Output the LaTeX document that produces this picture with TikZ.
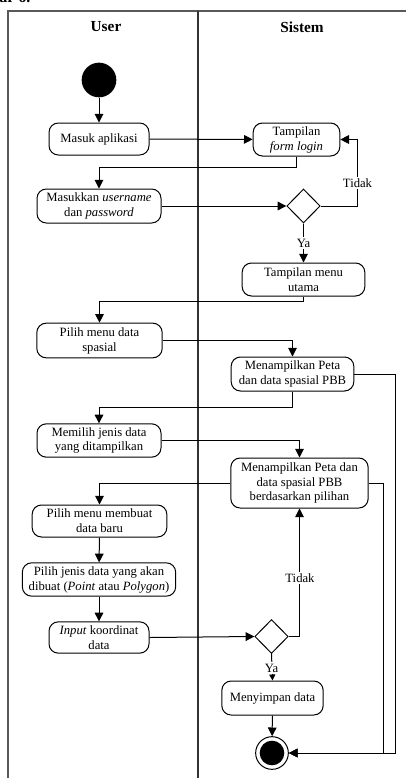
\documentclass[tikz,border=0pt]{standalone}
\usepackage{fontspec}
\setmainfont{Liberation Serif}
\usetikzlibrary{shapes.geometric,arrows.meta}
\begin{document}
\begin{tikzpicture}[x=0.75pt,y=-0.75pt,
  act/.style={draw,line width=0.75pt,rounded corners=7pt,align=center,
    inner sep=1pt,font=\fontsize{9.5}{11.2}\selectfont},
  dec/.style={draw,diamond,line width=0.75pt,inner sep=0pt,
    minimum width=25pt,minimum height=25.5pt},
  arr/.style={line width=0.75pt,-{Triangle[length=6.5pt,width=6.5pt]}},
  sarr/.style={line width=0.75pt,-{Triangle[length=4.5pt,width=4.5pt]}},
  lane/.style={line width=1.1pt,black!65},
  hdr/.style={font=\fontsize{11.5}{13}\selectfont\bfseries},
  lbl/.style={fill=white,inner sep=1pt,font=\fontsize{9.5}{11}\selectfont}]
\useasboundingbox (0,0) rectangle (406,778);

% caption remnant above the frame
\node[anchor=base west,inner sep=0pt,font=\fontsize{12}{14}\selectfont\bfseries] (cap) at (-1,2.5) {ar 6.};

% swimlane frame
\draw[lane] (8,790) -- (8,11) -- (420,11);
\draw[line width=0.8pt,black!80] (198,11) -- (198,790);
\node[hdr] (huser) at (106,27) {User};
\node[hdr] (hsys) at (302,27) {Sistem};

% nodes
\node[circle,fill=black,minimum size=26pt,inner sep=0pt] (start) at (99,80) {};
\node[act,minimum width=75pt,minimum height=24pt] (masuk) at (99,139) {Masuk aplikasi};
\node[act,minimum width=65pt,minimum height=24.75pt] (login) at (296.5,139.5) {Tampilan\\\textit{form login}};
\node[act,minimum width=93pt,minimum height=25.5pt] (masukkan) at (99,206) {Masukkan \textit{username}\\dan \textit{password}};
\node[dec] (d1) at (303.5,206) {};
\node[act,minimum width=92pt,minimum height=24.75pt] (menu) at (303.5,279.5) {Tampilan menu\\utama};
\node[act,minimum width=94pt,minimum height=26pt] (spasial) at (99.5,340.5) {Pilih menu data\\spasial};
\node[act,minimum width=92pt,minimum height=25.5pt] (peta1) at (292.5,374) {Menampilkan Peta\\dan data spasial PBB};
\node[act,minimum width=93pt,minimum height=25pt] (memilih) at (99,440.5) {Memilih jenis data\\yang ditampilkan};
\node[act,minimum width=103pt,minimum height=37.5pt] (peta2) at (299.5,483) {Menampilkan Peta dan\\data spasial PBB\\berdasarkan pilihan};
\node[act,minimum width=101pt,minimum height=24pt] (membuat) at (99.5,521) {Pilih menu membuat\\data baru};
\node[act,minimum width=115pt,minimum height=25pt] (jenis) at (99,579.5) {Pilih jenis data yang akan\\dibuat (\textit{Point} atau \textit{Polygon})};
\node[act,minimum width=75pt,minimum height=23.5pt] (input) at (99,637.5) {\textit{Input} koordinat\\data};
\node[dec] (d2) at (271.5,636.5) {};
\node[act,minimum width=76pt,minimum height=25.5pt] (simpan) at (272.5,698) {Menyimpan data};
\node[circle,draw,line width=0.75pt,fill=white,minimum size=24.5pt,inner sep=0pt] (end) at (272,753) {};
\node[circle,fill=black,minimum size=18.5pt,inner sep=0pt] (endin) at (end.center) {};

% junction points on the right edge
\coordinate (r1) at (395,753);
\coordinate (r2) at (383,753);

% connectors
\draw[arr] (start) -- (masuk);
\draw[arr] (masuk) -- (login);
\draw[arr] (login.south) -- ++(0,11) -| (masukkan.north);
\draw[arr] (masukkan.east) -- (d1.west);
\draw[arr] (d1.east) -- ++(37,0) |- (login.east);
\node[lbl] (t1) at (357.5,183) {Tidak};
\draw[arr] (d1.south) -- (menu.north);
\node[lbl] (y1) at (303.5,243) {Ya};
\draw[arr] (menu.south) -- ++(0,5) -| (spasial.north);
\draw[arr] (spasial.east) -| (peta1.north);
\draw[arr] (peta1.east) -| (r1) -- (end.east);
\draw[arr] (peta1.south) -- ++(0,16) -| (memilih.north);
\draw[arr] (memilih.east) -| (peta2.north);
\draw[arr] (peta2.west) -| (membuat.north);
\draw[arr] (peta2.east) -| (r2) -- (end.east);
\draw[arr] (membuat) -- (jenis);
\draw[arr] (jenis) -- (input);
\draw[arr] (input.east) -- (d2.west);
\draw[arr] (d2.east) -| (peta2.south);
\node[lbl] (t2) at (300,578) {Tidak};
\draw[sarr] (d2.south) -- (simpan.north);
\node[lbl] (y2) at (271.5,668) {Ya};
\draw[arr] (simpan) -- (end);
\end{tikzpicture}
\end{document}
